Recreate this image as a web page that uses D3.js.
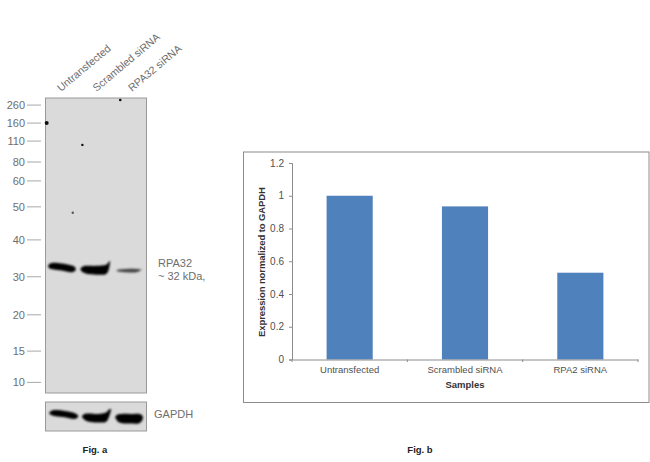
<!DOCTYPE html>
<html><head><meta charset="utf-8">
<script src="https://cdn.jsdelivr.net/npm/d3@7"></script>
<style>
html,body{margin:0;padding:0;background:#fff}
svg{display:block}
text{font-family:"Liberation Sans",Arial,sans-serif}
</style></head><body><svg id="c" width="650" height="462"></svg>
<script>
// Fig. b data
const categories = ["Untransfected", "Scrambled siRNA", "RPA2 siRNA"];
const expression = [1.0, 0.935, 0.53];
const yTicks = [0, 0.2, 0.4, 0.6, 0.8, 1, 1.2];
// Fig. a data
const laneLabels = ["Untransfected", "Scrambled siRNA", "RPA32 siRNA"];
const ladderKDa = [260, 160, 110, 80, 60, 50, 40, 30, 20, 15, 10];
const ladderMigration = [0.024, 0.085, 0.146, 0.217, 0.281, 0.369, 0.481, 0.606, 0.735, 0.858, 0.964];
// band outlines: [position across blot 0-1, position down panel 0-1, thickness 0-1 of panel, darkness]
const mainBands = [
  [[0.025,0.570,0.002,1],[0.045,0.570,0.018,1],[0.08,0.570,0.023,1],[0.16,0.573,0.024,1],[0.25,0.579,0.024,1],[0.285,0.580,0.017,1],[0.30,0.580,0.002,1]],
  [[0.345,0.580,0.002,1],[0.37,0.581,0.020,1],[0.42,0.583,0.028,1],[0.50,0.584,0.030,1],[0.60,0.581,0.031,1],[0.625,0.570,0.026,1],[0.64,0.553,0.002,1]],
  [[0.70,0.584,0.001,.6],[0.73,0.585,0.008,.6],[0.80,0.585,0.011,.72],[0.90,0.585,0.011,.72],[0.95,0.582,0.002,.6]]
];
const gapdhBands = [
  [[0.035,0.38,0.02,1],[0.06,0.38,0.16,1],[0.10,0.385,0.21,1],[0.19,0.42,0.22,1],[0.28,0.48,0.22,1],[0.31,0.49,0.14,1],[0.325,0.49,0.02,1]],
  [[0.36,0.50,0.02,1],[0.385,0.51,0.20,1],[0.43,0.54,0.29,1],[0.52,0.56,0.30,1],[0.60,0.52,0.32,1],[0.63,0.38,0.24,1],[0.65,0.25,0.01,.85]],
  [[0.69,0.52,0.02,1],[0.715,0.55,0.24,1],[0.76,0.57,0.32,1],[0.84,0.58,0.33,1],[0.93,0.57,0.32,1],[0.955,0.55,0.20,1],[0.965,0.55,0.02,1]]
];
const specks = [[0.74,0.007,1.3,1],[0.012,0.085,2,1],[0.365,0.159,1.2,1],[0.27,0.389,1.2,.65]];

const svg = d3.select("#c");
const defs = svg.append("defs");
defs.append("filter").attr("id","soft").attr("x","-20%").attr("y","-60%").attr("width","140%").attr("height","220%")
  .append("feGaussianBlur").attr("stdDeviation",0.9);
defs.append("filter").attr("id","speck").append("feGaussianBlur").attr("stdDeviation",0.4);

const grey = "#6e6e6e";
const blotBg = "#dadada";
const blotX = d3.scaleLinear().domain([0,1]).range([45.5,146.5]);
const blotY = d3.scaleLinear().domain([0,1]).range([98,393]);
const gapY  = d3.scaleLinear().domain([0,1]).range([402,431]);

function panel(y){
  const r = y.range();
  svg.append("rect").attr("x",blotX(0)).attr("y",r[0]).attr("width",blotX(1)-blotX(0)).attr("height",r[1]-r[0])
    .attr("fill",blotBg).attr("stroke","#9a9a9a").attr("stroke-width",1);
}
panel(blotY); panel(gapY);

const ink = d3.interpolateRgb(blotBg,"#050505");
function drawBands(bands,y){
  const span = y.range()[1]-y.range()[0];
  const area = d3.area().x(d=>blotX(d[0]))
    .y0(d=>y(d[1])-d[2]*span/2).y1(d=>y(d[1])+d[2]*span/2).curve(d3.curveCatmullRom);
  svg.append("g").attr("filter","url(#soft)").selectAll("path").data(bands).join("path")
    .attr("d",area).attr("fill",d=>ink(d3.max(d,p=>p[3])));
}
drawBands(mainBands,blotY); drawBands(gapdhBands,gapY);

svg.append("g").attr("filter","url(#speck)").selectAll("circle").data(specks).join("circle")
  .attr("cx",d=>blotX(d[0])).attr("cy",d=>blotY(d[1])).attr("r",d=>d[2]).attr("fill","#111").attr("opacity",d=>d[3]);

// ladder
const lad = svg.append("g").selectAll("g").data(ladderKDa).join("g")
  .attr("transform",(d,i)=>`translate(0,${blotY(ladderMigration[i])})`);
lad.append("line").attr("x1",27).attr("x2",41).attr("stroke","#a8a8a8");
lad.append("text").attr("x",25).attr("dy","0.35em").attr("text-anchor","end")
  .attr("font-size",11).attr("fill",grey).text(d=>d);

// lane labels
const laneX = d3.scalePoint().domain(laneLabels).range([61,132]);
svg.selectAll(".lane").data(laneLabels).join("text").attr("class","lane")
  .attr("transform",d=>`translate(${laneX(d)},92) rotate(-40)`)
  .attr("font-size",10.6).attr("fill",grey).text(d=>d);

const side = [["RPA32",158,263],["~ 32 kDa,",158,276],["GAPDH",154,414]];
svg.selectAll(".side").data(side).join("text").attr("class","side")
  .attr("x",d=>d[1]).attr("y",d=>d[2]).attr("dy","0.35em").attr("font-size",11).attr("fill",grey).text(d=>d[0]);

const figs = [["Fig. a",95],["Fig. b",420]];
svg.selectAll(".fig").data(figs).join("text").attr("class","fig")
  .attr("x",d=>d[1]).attr("y",450).attr("dy","0.35em").attr("text-anchor","middle")
  .attr("font-size",9.5).attr("font-weight","bold").attr("fill","#222").text(d=>d[0]);

// Fig. b
svg.append("rect").attr("x",243.5).attr("y",152).attr("width",405.5).attr("height",250.5)
  .attr("fill","#fff").attr("stroke","#8c8c8c").attr("stroke-width",1);
const x = d3.scaleBand().domain(categories).range([292,638]).paddingInner(0.6).paddingOuter(0.3);
const y = d3.scaleLinear().domain([0,1.2]).range([359.5,163]);
svg.append("g").selectAll("rect").data(categories).join("rect")
  .attr("x",d=>x(d)).attr("width",x.bandwidth())
  .attr("y",(d,i)=>y(expression[i])).attr("height",(d,i)=>y(0)-y(expression[i]))
  .attr("fill","#4f81bd");
const ya = svg.append("g").attr("transform","translate(292,0)")
  .call(d3.axisLeft(y).tickValues(yTicks).tickFormat(d3.format("~g")).tickSize(3).tickPadding(5));
const xa = svg.append("g").attr("transform","translate(0,359.5)")
  .call(d3.axisBottom(x).tickSize(0).tickPadding(7));
[ya,xa].forEach(a=>{a.selectAll("path,line").attr("stroke","#8c8c8c");
  a.selectAll("text").attr("font-family","'Liberation Sans',Arial,sans-serif").attr("fill","#505050");});
ya.selectAll("text").attr("font-size",10);
xa.selectAll("text").attr("font-size",9.5);
const boundary = d3.scaleLinear().domain([0,categories.length]).range(x.range());
svg.append("g").selectAll("line").data(d3.range(categories.length+1)).join("line")
  .attr("x1",boundary).attr("x2",boundary)
  .attr("y1",359.5).attr("y2",362).attr("stroke","#8c8c8c");
svg.append("text").attr("x",465).attr("y",385).attr("dy","0.35em").attr("text-anchor","middle")
  .attr("font-size",9.5).attr("font-weight","bold").attr("fill","#333").text("Samples");
svg.append("text").attr("transform","translate(262,262) rotate(-90)").attr("dy","0.35em").attr("text-anchor","middle")
  .attr("font-size",9.5).attr("font-weight","bold").attr("fill","#333").attr("textLength",150).text("Expression normalized to GAPDH");
</script></body></html>
